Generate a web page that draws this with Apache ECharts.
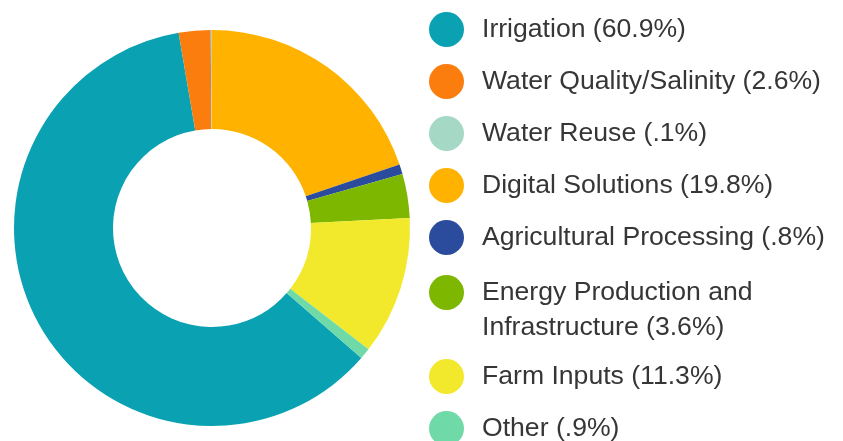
<!DOCTYPE html>
<html>
<head>
<meta charset="utf-8">
<script src="https://cdn.jsdelivr.net/npm/echarts@6/dist/echarts.min.js"></script>
<style>
  html, body { margin: 0; padding: 0; background: #ffffff; }
  #chart { width: 843px; height: 441px; }
</style>
</head>
<body>
<div id="chart"></div>
<script>
// Share of projects by category (percent)
const categories = [
  'Irrigation',
  'Water Quality/Salinity',
  'Water Reuse',
  'Digital Solutions',
  'Agricultural Processing',
  'Energy Production and Infrastructure',
  'Farm Inputs',
  'Other'
];
const shares = [60.9, 2.6, 0.1, 19.8, 0.8, 3.6, 11.3, 0.9];
const shareLabels = ['60.9%', '2.6%', '.1%', '19.8%', '.8%', '3.6%', '11.3%', '.9%'];
// Legend wording, with the long category broken over two lines
const legendNames = [
  'Irrigation',
  'Water Quality/Salinity',
  'Water Reuse',
  'Digital Solutions',
  'Agricultural Processing',
  'Energy Production and\nInfrastructure',
  'Farm Inputs',
  'Other'
];
const colors = ['#0aa2b3', '#fb7d0d', '#a6d8c6', '#ffb300', '#2b4c9c', '#7db700', '#f3e92c', '#6fdaa8'];

// First slice begins so that Digital Solutions starts at 12 o'clock
const before = shares[0] + shares[1] + shares[2];
const startAngle = 90 + before / 100 * 360;

const chart = echarts.init(document.getElementById('chart'), null, { renderer: 'canvas' });

const font = {
  fontFamily: '"Liberation Sans", Arial, sans-serif',
  fontSize: 26.6,
  color: '#363636',
  lineHeight: 35,
  padding: [0, 0, 0, 13]
};
const fmt = name => {
  const i = categories.indexOf(name);
  return legendNames[i] + ' (' + shareLabels[i] + ')';
};
const legendBase = {
  orient: 'vertical',
  left: 429,
  padding: 0,
  height: 120,
  itemWidth: 35,
  itemHeight: 35,
  itemGap: 17,
  icon: 'circle',
  selectedMode: false,
  formatter: fmt,
  textStyle: font
};

chart.setOption({
  animation: false,
  color: colors,
  legend: [
    Object.assign({}, legendBase, { top: 12, height: 300, data: categories.slice(0, 5) }),
    // two-line entry: a leading blank line keeps the icon level with the first line
    Object.assign({}, legendBase, {
      top: 240,
      data: [categories[5]],
      formatter: name => '\n' + fmt(name)
    }),
    Object.assign({}, legendBase, { top: 359, data: categories.slice(6) })
  ],
  series: [{
    type: 'pie',
    center: [212, 228],
    radius: [99, 198],
    startAngle: startAngle,
    clockwise: true,
    avoidLabelOverlap: false,
    label: { show: false },
    labelLine: { show: false },
    emphasis: { disabled: true },
    itemStyle: { borderWidth: 0 },
    data: categories.map((c, i) => ({ name: c, value: shares[i] }))
  }]
});
</script>
</body>
</html>
